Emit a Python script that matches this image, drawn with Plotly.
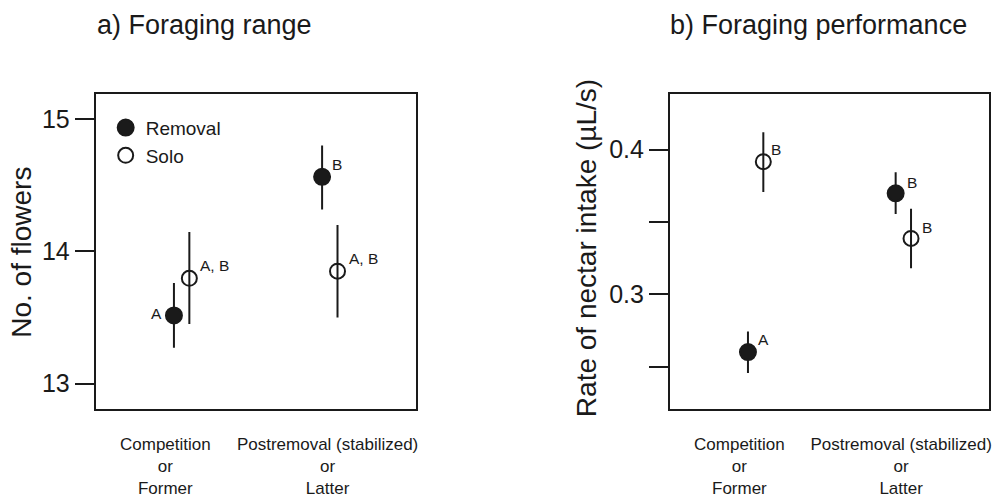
import plotly.graph_objects as go

# ---------------- data ----------------
categories = ["Competition<br>or<br>Former", "Postremoval (stabilized)<br>or<br>Latter"]
cat_pos = [1, 2]
label_pos = [0.89, 1.985]

# a) Foraging range (No. of flowers)
a_removal = [13.515, 14.564]
a_removal_hi = [13.76, 14.80]
a_removal_lo = [13.27, 14.316]
a_solo = [13.796, 13.85]
a_solo_hi = [14.147, 14.20]
a_solo_lo = [13.45, 13.50]
a_removal_letters = ["A", "B"]
a_solo_letters = ["A, B", "A, B"]

# b) Foraging performance (rate of nectar intake, µL/s)
b_removal = [0.2602, 0.3698]
b_removal_hi = [0.2744, 0.3844]
b_removal_lo = [0.2457, 0.3556]
b_solo = [0.3917, 0.3387]
b_solo_hi = [0.412, 0.3591]
b_solo_lo = [0.3707, 0.3180]
b_removal_letters = ["A", "B"]
b_solo_letters = ["B", "B"]

a_yticks = [13, 14, 15]
b_yticks = [0.25, 0.3, 0.35, 0.4]
b_yticktext = ["", "0.3", "", "0.4"]

# --------------- style ----------------
FONT = "Liberation Sans, Arial, sans-serif"
INK = "#1a1a1a"
OFF = 0.052
MS = 16

fig = go.Figure()


def add_series(xa, ya, vals, hi, lo, filled, name, show):
    xs = [c - OFF if filled else c + OFF for c in cat_pos]
    fig.add_trace(go.Scatter(
        x=xs, y=vals, mode="markers", name=name, showlegend=show,
        xaxis=xa, yaxis=ya,
        marker=dict(size=MS if filled else MS - 1, symbol="circle" if filled else "circle-open",
                    color=INK, line=dict(color=INK, width=2)),
        error_y=dict(type="data", symmetric=False,
                     array=[h - v for h, v in zip(hi, vals)],
                     arrayminus=[v - l for l, v in zip(lo, vals)],
                     width=0, thickness=2, color=INK),
    ))
    return xs


xs_ar = add_series("x", "y", a_removal, a_removal_hi, a_removal_lo, True, "Removal", True)
xs_as = add_series("x", "y", a_solo, a_solo_hi, a_solo_lo, False, "Solo", True)
xs_br = add_series("x2", "y2", b_removal, b_removal_hi, b_removal_lo, True, "Removal", False)
xs_bs = add_series("x2", "y2", b_solo, b_solo_hi, b_solo_lo, False, "Solo", False)

ann = []
letter_font = dict(family=FONT, size=15.5, color=INK)
# panel a letters
ann.append(dict(x=xs_ar[0], y=a_removal[0], xref="x", yref="y", text=a_removal_letters[0],
                showarrow=False, xanchor="center", xshift=-17, yshift=2, font=letter_font))
ann.append(dict(x=xs_ar[1], y=a_removal[1], xref="x", yref="y", text=a_removal_letters[1],
                showarrow=False, xanchor="left", xshift=8, yshift=12, font=letter_font))
for i in range(2):
    ann.append(dict(x=xs_as[i], y=a_solo[i], xref="x", yref="y", text=a_solo_letters[i],
                    showarrow=False, xanchor="left", xshift=9, yshift=13, font=letter_font))
# panel b letters
ann.append(dict(x=xs_bs[0], y=b_solo[0], xref="x2", yref="y2", text=b_solo_letters[0],
                showarrow=False, xanchor="left", xshift=6, yshift=12, font=letter_font))
ann.append(dict(x=xs_br[0], y=b_removal[0], xref="x2", yref="y2", text=b_removal_letters[0],
                showarrow=False, xanchor="left", xshift=8, yshift=13, font=letter_font))
ann.append(dict(x=xs_br[1], y=b_removal[1], xref="x2", yref="y2", text=b_removal_letters[1],
                showarrow=False, xanchor="left", xshift=9, yshift=11, font=letter_font))
ann.append(dict(x=xs_bs[1], y=b_solo[1], xref="x2", yref="y2", text=b_solo_letters[1],
                showarrow=False, xanchor="left", xshift=9, yshift=11, font=letter_font))

# titles
title_font = dict(family=FONT, size=27, color=INK)
ann.append(dict(x=95 / 995, y=1 - 26 / 498, xref="paper", yref="paper", text="a) Foraging range",
                showarrow=False, xanchor="left", yanchor="middle", font=title_font))
ann.append(dict(x=670 / 995, y=1 - 26 / 498, xref="paper", yref="paper", text="b) Foraging performance",
                showarrow=False, xanchor="left", yanchor="middle", font=title_font))
# y-axis titles
ann.append(dict(x=22 / 995, y=(1 - 257 / 498), xref="paper", yref="paper", text="No. of flowers",
                showarrow=False, textangle=-90, xanchor="center", yanchor="middle",
                font=dict(family=FONT, size=28, color=INK)))
ann.append(dict(x=589 / 995, y=(1 - 253 / 498), xref="paper", yref="paper",
                text="Rate of nectar intake (µL/s)",
                showarrow=False, textangle=-90, xanchor="center", yanchor="middle",
                font=dict(family=FONT, size=28, color=INK)))

y_dom = [1 - 417 / 498, 1 - 96 / 498]
xaxis_common = dict(range=[0.42, 2.58], showgrid=False, zeroline=False, showline=True,
                    mirror=True, linecolor=INK, linewidth=2, ticks="",
                    tickvals=label_pos, ticktext=categories, ticklabelstandoff=19,
                    tickfont=dict(family=FONT, size=17, color=INK), fixedrange=True)
yaxis_common = dict(showgrid=False, zeroline=False, showline=True, mirror=True,
                    linecolor=INK, linewidth=2, ticks="outside", ticklen=19, tickwidth=1.5,
                    tickcolor=INK, tickfont=dict(family=FONT, size=25, color=INK),
                    fixedrange=True)

fig.update_layout(
    width=995, height=498,
    margin=dict(l=0, r=0, t=0, b=0),
    paper_bgcolor="white", plot_bgcolor="white",
    font=dict(family=FONT, color=INK),
    xaxis=dict(domain=[96 / 995, 417 / 995], anchor="y", **xaxis_common),
    xaxis2=dict(domain=[672 / 995, 992 / 995], anchor="y2", **xaxis_common),
    yaxis=dict(domain=y_dom, anchor="x", range=[12.81, 15.19], tickvals=a_yticks,
               ticktext=[str(v) for v in a_yticks], **yaxis_common),
    yaxis2=dict(domain=y_dom, anchor="x2", range=[0.2211, 0.4384], tickvals=b_yticks,
                ticktext=b_yticktext, **yaxis_common),
    showlegend=True,
    legend=dict(x=106 / 995, y=1 - 111 / 498, xanchor="left", yanchor="top",
                bgcolor="rgba(0,0,0,0)", borderwidth=0, itemwidth=30,
                tracegroupgap=0, itemsizing="trace",
                font=dict(family=FONT, size=19, color=INK)),
    annotations=ann,
)

fig.write_html("out.html", config={"displayModeBar": False},
               post_script="document.body.style.margin='0px';document.body.style.overflow='hidden';")
